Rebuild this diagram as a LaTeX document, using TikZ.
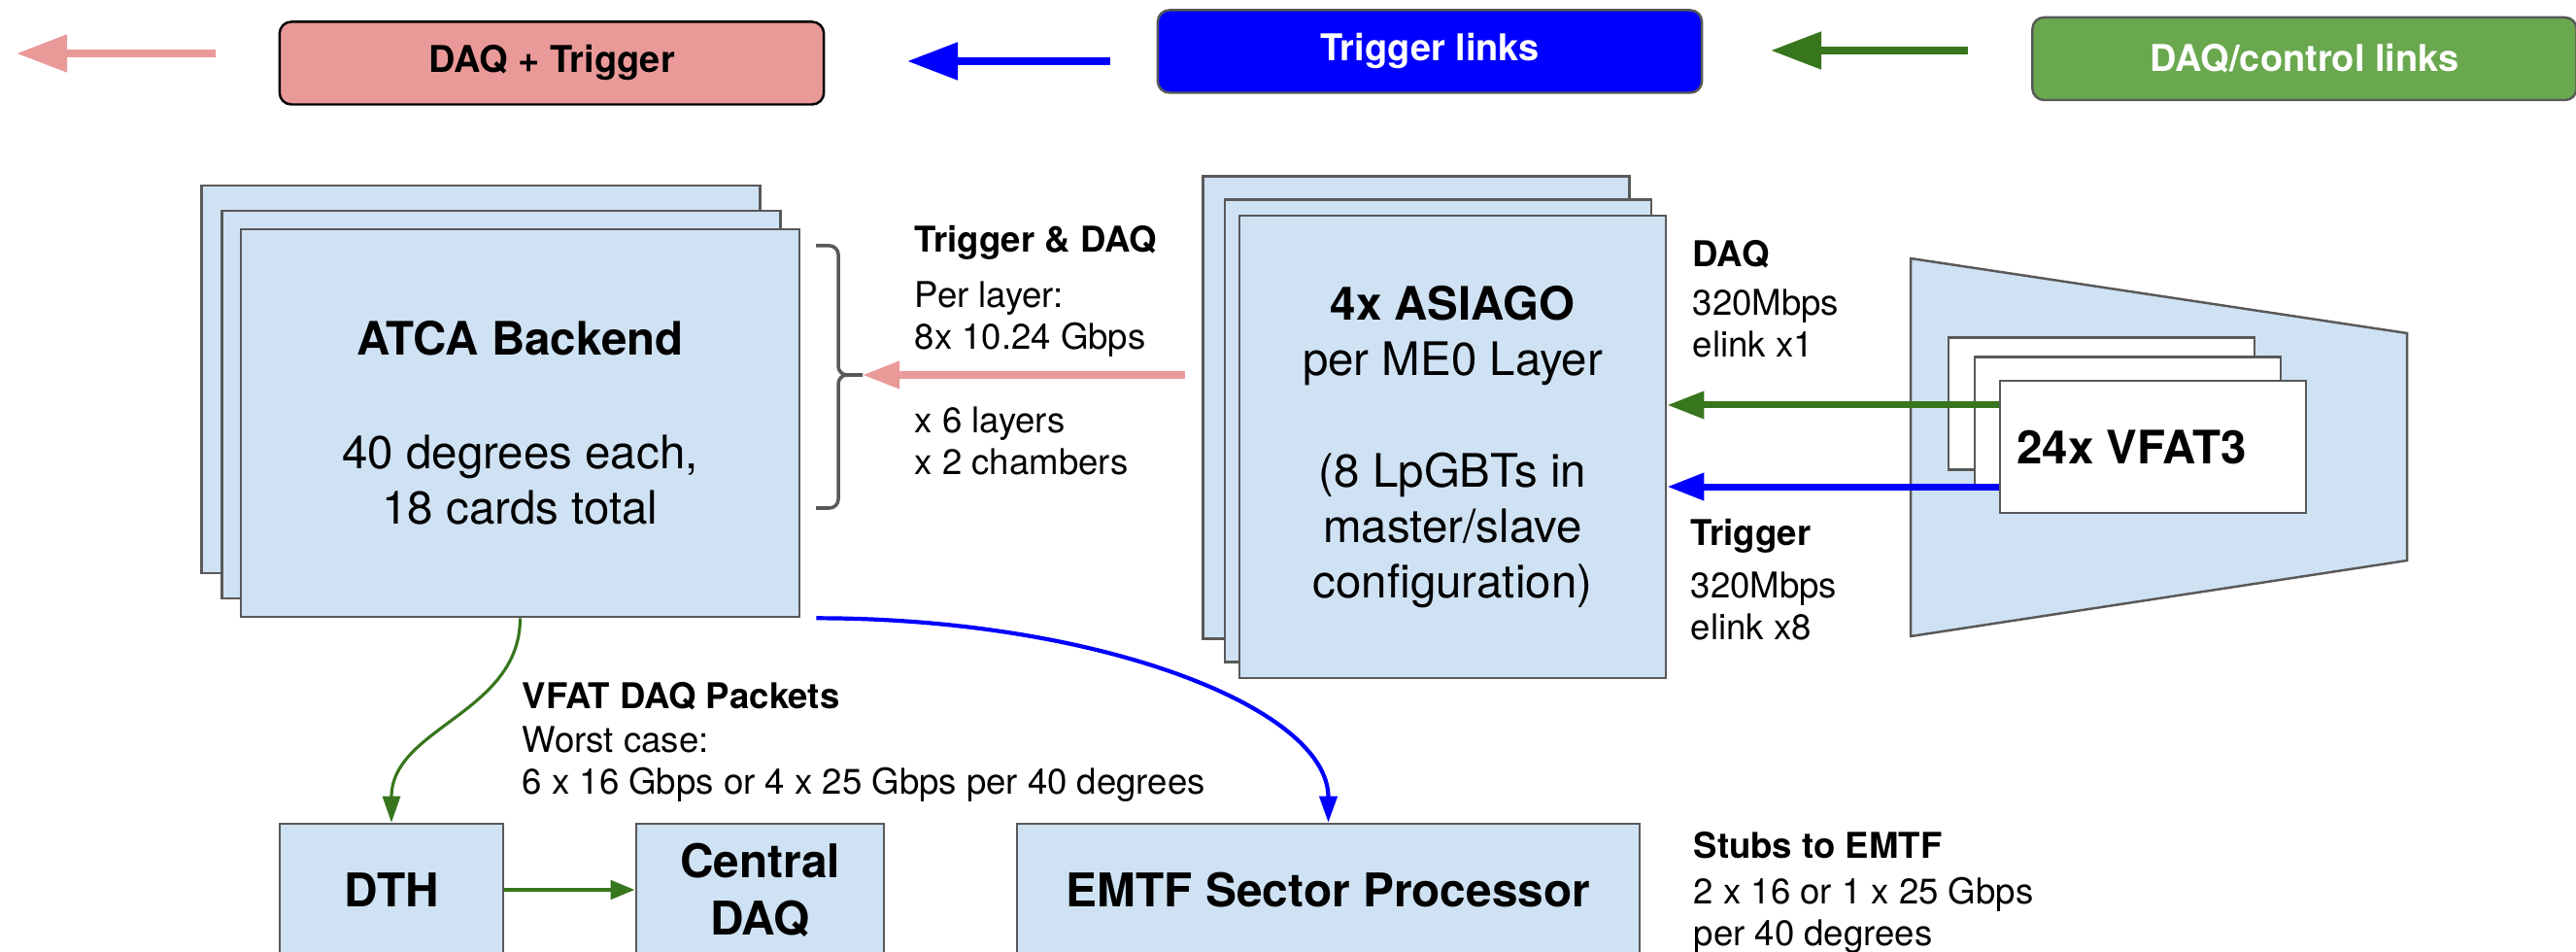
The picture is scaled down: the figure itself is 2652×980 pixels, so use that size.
\documentclass[tikz,border=0pt]{standalone}
\usepackage{fontspec}
\setmainfont{TeX Gyre Heros}
\usetikzlibrary{arrows.meta}
\definecolor{cardblue}{HTML}{CFE2F3}
\definecolor{edgegray}{HTML}{595959}
\definecolor{daqpink}{HTML}{EA9999}
\definecolor{trigblue}{HTML}{0000FF}
\definecolor{ctrlgreen}{HTML}{6AA84F}
\definecolor{linkgreen}{HTML}{38761D}

\begin{document}
\begin{tikzpicture}[x=0.01cm, y=-0.01cm,
    card/.style={draw=edgegray, line width=0.7pt, fill=cardblue, inner sep=0pt, align=center,
        font=\fontsize{13.5}{16.3}\selectfont},
    boxtitle/.style={card, minimum height=1.36cm, font=\fontsize{13.6}{16.8}\selectfont\bfseries},
    atcasize/.style={minimum width=5.75cm, minimum height=3.99cm},
    asiagosize/.style={minimum width=4.39cm, minimum height=4.76cm},
    chip/.style={draw=edgegray, line width=0.7pt, fill=white, inner sep=0pt,
        minimum width=3.15cm, minimum height=1.36cm},
    keybox/.style={rounded corners=1.2mm, line width=0.7pt, inner sep=0pt,
        minimum width=5.6cm, minimum height=0.85cm, font=\fontsize{10.8}{12}\selectfont\bfseries},
    note/.style={anchor=north west, inner sep=0pt, align=left, font=\fontsize{10.4}{12.2}\selectfont},
    bigarrow/.style={line width=2.3pt, -{Triangle[length=5.2mm, width=3.7mm]}},
    linkarrow/.style={line width=2pt, -{Triangle[length=3.8mm, width=2.7mm]}},
    thinarrow/.style={-{Triangle[length=2.7mm, width=1.8mm]}}
]
\useasboundingbox (0,0) rectangle (2652,980);
\clip (0,0) rectangle (2652,980);

\node[keybox, draw=black, fill=daqpink] (daqtrig) at (568,65) {DAQ + Trigger};
\node[keybox, draw=edgegray, fill=trigblue, text=white] (triglinks) at (1472,53) {Trigger links};
\node[keybox, draw=edgegray, fill=ctrlgreen, text=white] (ctrllinks) at (2372.5,60.5) {DAQ/control links};
\coordinate (pinkA) at (222,55);
\coordinate (pinkB) at (17,55);
\coordinate (blueA) at (1143,63);
\coordinate (blueB) at (934,63);
\coordinate (greenA) at (2026,52);
\coordinate (greenB) at (1823,52);
\draw[bigarrow, daqpink] (pinkA) -- (pinkB);
\draw[bigarrow, trigblue] (blueA) -- (blueB);
\draw[bigarrow, linkgreen] (greenA) -- (greenB);

\node[card, atcasize] (atcaA) at (495,390.5) {};
\node[card, atcasize] (atcaB) at (516,416.5) {};
\node[card, atcasize] (atca) at (535.5,435.5)
    {\textbf{ATCA Backend}\\[17pt]40 degrees each,\\18 cards total};

\node[card, asiagosize] (asiagoA) at (1458,419.5) {};
\node[card, asiagosize] (asiagoB) at (1480.5,443.5) {};
\node[card, asiagosize] (asiago) at (1495.5,460)
    {\textbf{4x ASIAGO}\\per ME0 Layer\\[16.3pt](8 LpGBTs in\\master/slave\\configuration)};

\draw[draw=edgegray, line width=0.7pt, fill=cardblue] (1967,266) -- (2478,343) -- (2478,577) -- (1967,655) -- cycle;
\node[chip] (vfatA) at (2163.5,415.5) {};
\node[chip] (vfatB) at (2190.5,435.5) {};
\node[chip, label={[xshift=-0.22cm, inner sep=0pt, font=\fontsize{13.5}{16}\selectfont\bfseries]center:24x VFAT3}]
    (vfat) at (2216.5,460) {};

\node[boxtitle, minimum width=2.30cm] (dth) at (403,916) {DTH};
\node[boxtitle, minimum width=2.55cm] (cdaq) at (782.5,916) {Central\\DAQ};
\node[boxtitle, minimum width=6.41cm] (emtf) at (1367.5,916) {EMTF Sector Processor};

\node[note] (trigdaqnote) at (941,232)
    {\textbf{Trigger \& DAQ}\\[4pt]Per layer:\\8x 10.24 Gbps\\[12.2pt]x 6 layers\\x 2 chambers};
\node[note] (daqnote) at (1742,247) {\textbf{DAQ}\\[2pt]320Mbps\\elink x1};
\node[note] (trignote) at (1740,534) {\textbf{Trigger}\\[3pt]320Mbps\\elink x8};
\node[note] (packetnote) at (537,702)
    {\textbf{VFAT DAQ Packets}\\[0.6pt]Worst case:\\6 x 16 Gbps or 4 x 25 Gbps per 40 degrees};
\node[note] (stubsnote) at (1743,856) {\textbf{Stubs to EMTF}\\[1pt]2 x 16 or 1 x 25 Gbps\\per 40 degrees};

\coordinate (bracetip) at (888,386);
\draw[edgegray, line width=1pt, rounded corners=0.9mm] (840,253) -- (863,253) -- (863,386) -- (bracetip);
\draw[edgegray, line width=1pt, rounded corners=0.9mm] (bracetip) -- (863,386) -- (863,523) -- (840,523);

\draw[linkarrow, daqpink] ([xshift=-0.17cm]bracetip -| asiagoA.west) -- (bracetip);
\draw[linkarrow, linkgreen] ([yshift=0.43cm]vfat.west) -- ([yshift=0.43cm]vfat.west -| asiago.east);
\draw[linkarrow, trigblue] ([yshift=-0.41cm]vfat.west) -- ([yshift=-0.41cm]vfat.west -| asiago.east);

\draw[thinarrow, linkgreen, line width=0.9pt] (atca.south) .. controls +(0,98) and +(0,-98) .. (dth.north);
\draw[thinarrow, trigblue, line width=1.2pt] ([xshift=0.16cm]atca.south east) .. controls +(290,0) and +(0,-118) .. (emtf.north);
\draw[line width=1.3pt, linkgreen, -{Triangle[length=2.5mm, width=1.9mm]}] (dth) -- (cdaq);
\end{tikzpicture}
\end{document}
